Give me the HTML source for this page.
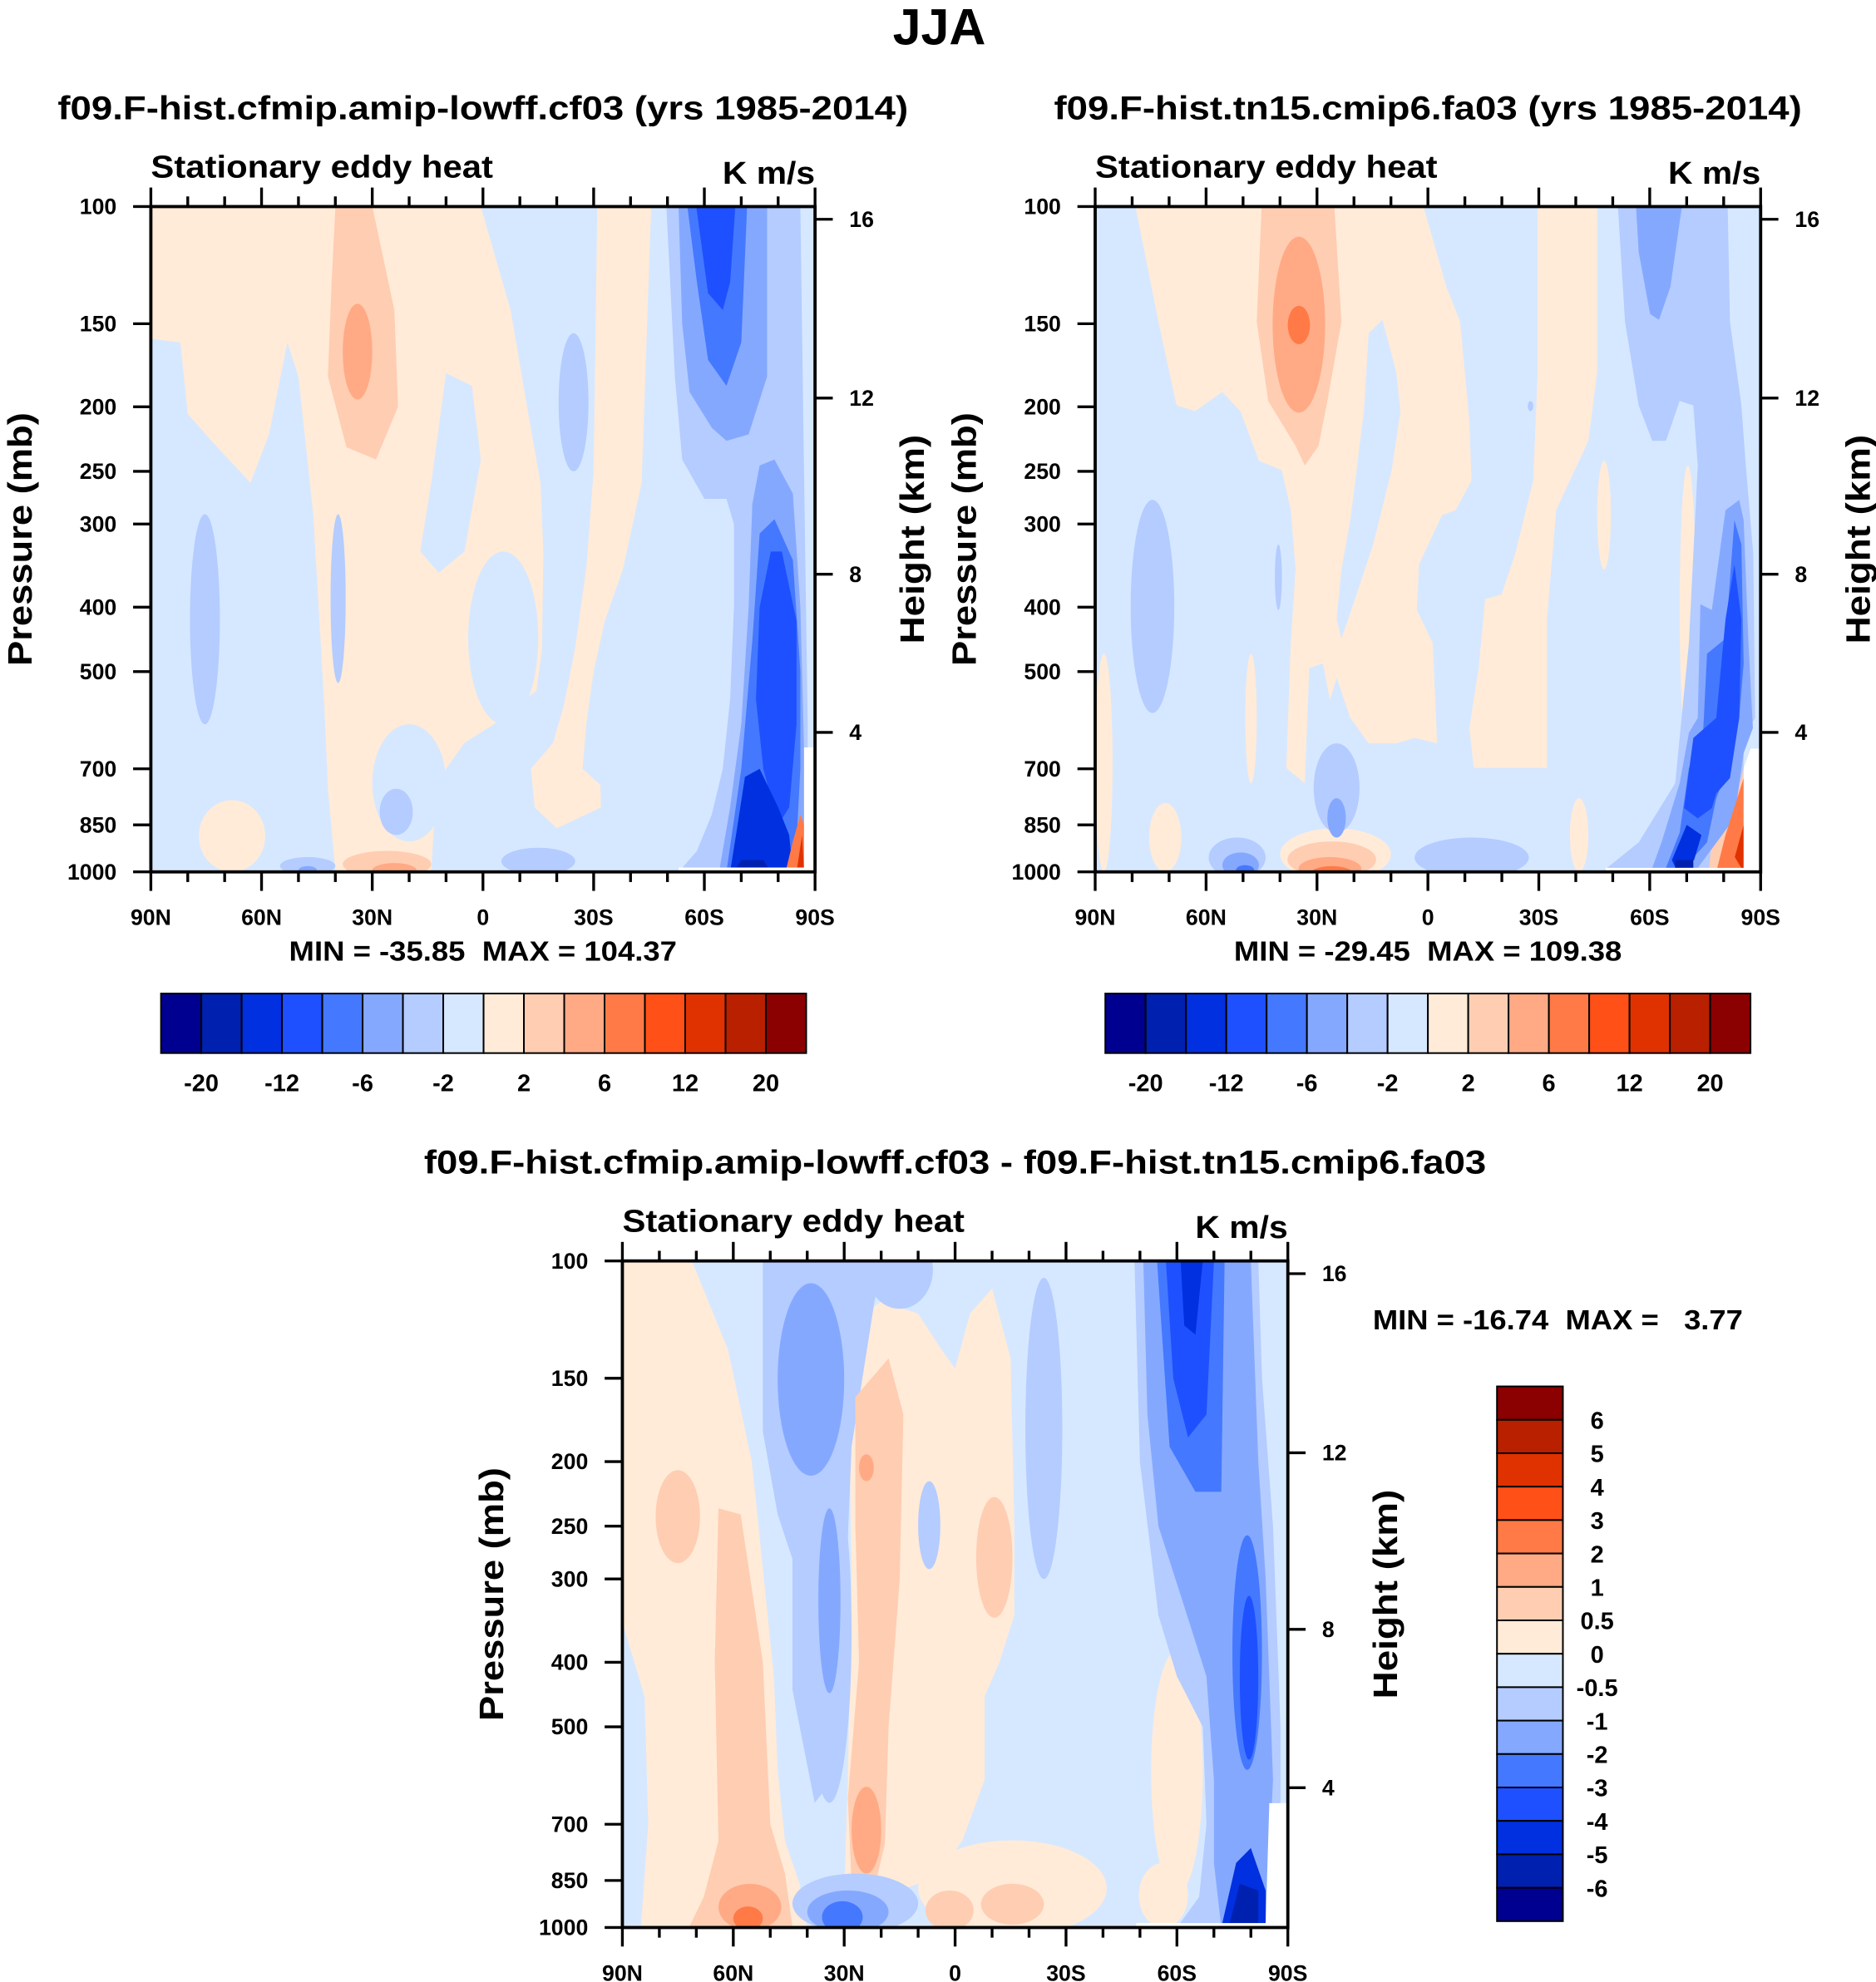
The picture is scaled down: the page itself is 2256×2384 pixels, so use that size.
<!DOCTYPE html>
<html><head><meta charset="utf-8"><style>
html,body{margin:0;padding:0;background:#fff}
svg{display:block}
text{font-family:"Liberation Sans",sans-serif;font-weight:bold;fill:#000;white-space:pre}
</style></head><body>
<svg id="fig" xmlns="http://www.w3.org/2000/svg" width="2256" height="2384" viewBox="0 0 1480 1564">
<text x="741" y="35" font-size="40" text-anchor="middle">JJA</text>
</svg>
<script>
const levelColors = ["#000090","#0020b0","#0030e0","#1e50ff","#4478ff","#85a8ff","#b4ccff","#d6e8ff","#ffebd8","#ffcdb2","#ffaa85","#ff7a46","#ff5018","#e03200","#b82000","#8b0000"];
const latTicks = [90,60,30,0,-30,-60,-90];
const latLabels = ["90N","60N","30N","0","30S","60S","90S"];
const presTicks = [100,150,200,250,300,400,500,700,850,1000];
const heightTicks = [16,12,8,4];
const heightPres = [104.5,194,357,617];
const cbLabelsTop = ["-20","-12","-6","-2","2","6","12","20"];
const cbLabelsDiff = ["6","5","4","3","2","1","0.5","0","-0.5","-1","-2","-3","-4","-5","-6"];

const p1Polys = [
 [8,[[90,100],[0.6,100],[-7.5,143],[-12.3,205],[-15.6,260],[-16.4,331],[-16,462],[-14.5,534],[-3,600],[5,640],[10,700],[13,800],[14,1000],[40,1000],[42,750],[43,560],[46,290],[50,180],[53,160],[58,220],[63,260],[72,230],[80,205],[82,160],[90,158]]],
 [7,[[10,178],[3,186],[0.6,240],[5,330],[12,355],[17,330],[14,260]]],
 [8,[[-31,100],[-45.6,100],[-43,260],[-38,350],[-33,420],[-30,500],[-28,600],[-27,700],[-31.8,740],[-32,800],[-20,860],[-14,800],[-13,700],[-19,640],[-22,560],[-25,460],[-28,350],[-30,250]]],
 [9,[[40,100],[30,100],[24,143],[23,200],[29,240],[37,230],[42,180],[41,130]]],
 [6,[[-49.7,100],[-86,100],[-87,250],[-88,600],[-88,1000],[-53,1000],[-58,930],[-62,820],[-65,700],[-67,550],[-68,400],[-68,300],[-66,275],[-60,275],[-54,240],[-52,180]]],
 [5,[[-53,100],[-77,100],[-77,180],[-72,220],[-66,225],[-62,215],[-56,190],[-54,150]]],
 [4,[[-55.4,100],[-71.6,100],[-70,160],[-66,186],[-61,170],[-58,130]]],
 [3,[[-57.8,100],[-68.4,100],[-67,130],[-65,143],[-61,135]]],
 [5,[[-64,1000],[-67,800],[-70,600],[-72,400],[-73,280],[-75,245],[-79,240],[-84,270],[-86,400],[-87,650],[-88,1000]]],
 [4,[[-66,1000],[-70,700],[-73,450],[-75,310],[-79,295],[-84,340],[-86,500],[-86,700],[-85,900],[-84,1000]]],
 [3,[[-75,400],[-78,330],[-81,330],[-85,420],[-85,600],[-83,800],[-80,850],[-76,700],[-74,550]]],
 [2,[[-67,1000],[-69,850],[-71,720],[-75,700],[-80,800],[-83,880],[-84,1000]]],
 [1,[[-68,1000],[-70,960],[-76,960],[-78,1000]]],
 [11,[[-82,1000],[-84,900],[-86,820],[-87,850],[-87,1000]]],
 [13,[[-85,1000],[-86.5,880],[-87,1000]]]
];
const p1Ellipses = [
 [4,-15,330,600,7],[30,10,600,900,7],[77,59,780,1000,8],[38,30,140,195,10],
 [79.4,71.3,290,600,6],[41.3,37.2,290,520,6],[-20.5,-28.6,155,250,6],[28,19,750,880,6],[55,40,950,1010,6],[-5,-25,920,1010,6],[50,45,980,1010,5],
 [38,14,930,1020,9],[30,18,970,1020,10],[-69,-71.5,430,600,8]
];
const p1White = [[-53,985],[-87,985],[-87,650],[-90,650],[-90,1000],[-53,1000]];

const p2Polys = [
 [8,[[79.1,100],[1.2,100],[-5,132],[-8.7,149],[-11.2,210],[-11.8,258],[-7.5,286],[-3.8,291],[2.4,345],[3,404],[-1.3,453],[-2.5,641],[3.6,629],[8.6,641],[16,641],[21,587],[24.7,511],[26.5,552],[28.4,486],[32.1,494],[33.3,736],[38.3,698],[37.1,453],[35.8,351],[37.1,286],[39.5,249],[45.7,241],[50.7,203],[55.6,190],[63,203],[68,199],[72.9,149]]],
 [7,[[12.3,148],[8.6,177],[7.4,203],[9.8,249],[14.8,322],[19.7,389],[23.4,446],[24.7,417],[23.4,351],[21,296],[17.3,203],[16,155]]],
 [8,[[-29.7,100],[-45.8,100],[-45.8,177],[-43.4,225],[-38.4,258],[-34.7,286],[-32.2,417],[-32.2,698],[-12.4,698],[-11.2,608],[-13.7,494],[-15.5,389],[-19.9,383],[-23.6,333],[-28.5,258],[-29.7,177]]],
 [9,[[45,100],[25.3,100],[23.4,149],[27.2,196],[29.6,229],[33.3,245],[35.8,229],[43.2,196],[46.3,149]]],
 [6,[[-51.4,100],[-81.1,100],[-81.7,149],[-84.8,199],[-86,245],[-88,333],[-88.5,587],[-85.4,629],[-85.4,1000],[-47.1,1000],[-57,903],[-66.9,736],[-70.6,453],[-73,245],[-71.8,199],[-68.1,196],[-64.4,225],[-60.7,225],[-57,199],[-53.3,149]]],
 [5,[[-56.3,100],[-68.7,100],[-65.6,132],[-62.5,148],[-60.1,145],[-57,117]]],
 [5,[[-73,587],[-73.7,396],[-76.8,404],[-80.5,286],[-84.2,276],[-85.4,296],[-86.7,453],[-87.9,608],[-85.4,663],[-82.9,831],[-73,986],[-60.7,986],[-63.2,903],[-68.1,736],[-70.6,618]]],
 [4,[[-74.3,641],[-75.5,470],[-80.5,446],[-82.9,296],[-84.8,322],[-85.4,486],[-84.2,587],[-81.7,686],[-78,775],[-75.5,903],[-69.3,986],[-64.4,986],[-68.1,873],[-70.6,698]]],
 [3,[[-71.8,629],[-78,587],[-80.5,417],[-82.9,345],[-84.8,417],[-84.2,587],[-81.7,723],[-78,762],[-76.8,802],[-73,831],[-69.3,802]]],
 [2,[[-70,850],[-74,880],[-72,960],[-67,986],[-66,960]]],
 [1,[[-66.9,960],[-71.8,960],[-71.8,986],[-66.9,986]]],
 [9,[[-77,860],[-82,820],[-85.4,700],[-85.4,1000],[-76,1000]]],
 [11,[[-80.5,880],[-85.4,723],[-85.4,1000],[-78,1000]]],
 [13,[[-83,950],[-85.4,850],[-85.4,1000]]]
];
const p2Ellipses = [
 [42,27.8,111,204,10],[37.9,31.9,141,161,11],
 [-45.8,-49.5,241,351,8],[-68.1,-72.5,245,663,8],[90,85.3,470,1000,8],[49.4,46.3,470,736,8],[75.4,66.7,788,1000,8],[-38.4,-43.4,775,1000,8],
 [80.4,68.6,276,577,6],[41.4,39.5,322,404,6],[30.9,18.5,641,873,6],[-27,-28.5,196,203,6],[59.3,43.9,888,1020,6],[3.6,-27.3,888,1020,6],
 [27.2,22.2,775,888,5],[55.6,45.7,935,1020,5],[51.9,47,977,1010,4],
 [40,10,860,1030,8],[38,14,900,1020,9],[35,18,950,1030,10],[32,20,980,1040,11]
];
const p2White = [[-48,986],[-85.4,986],[-85.4,698],[-87.3,653],[-90,653],[-90,1000],[-48,1000]];

const p3Polys = [
 [8,[[90,100],[71.2,100],[61.4,136],[55,200],[51.7,300],[49,422],[48,581],[46,742],[42,862],[40,1000],[85,1000],[83,700],[84,450],[90,349]]],
 [9,[[64,235],[58,240],[52,400],[50,700],[46,830],[44,1000],[72,1000],[68,900],[64,742],[65,400]]],
 [6,[[52,100],[20,100],[22,117],[28,190],[29,260],[30,400],[33,600],[38,650],[44,440],[44,280],[48,240],[52,180]]],
 [8,[[29,125],[20,115],[10,120],[4,135],[0,145],[-4,120],[-10,110],[-15,140],[-16,250],[-16,340],[-12,400],[-8,450],[-8,600],[-2,740],[5,840],[20,900],[30,880],[29,600],[28,300]]],
 [9,[[27,160],[18,140],[14,170],[15,300],[18,500],[19,750],[22,880],[28,860],[29,640],[26,400],[27,250]]],
 [6,[[-48.5,100],[-82,100],[-83,150],[-86,250],[-88,500],[-88,1000],[-60,1000],[-66,900],[-68,700],[-67,500],[-60,420],[-55,340],[-50,200]]],
 [5,[[-50.9,100],[-80,100],[-82,200],[-84,300],[-86,600],[-84,1000],[-72,1000],[-70,800],[-70,600],[-68,420],[-62,330],[-55,250],[-52,170]]],
 [4,[[-54.6,100],[-72.9,100],[-72,222],[-65,222],[-58,190]]],
 [3,[[-57,100],[-70,100],[-68,170],[-63,184],[-59,150]]],
 [2,[[-61,100],[-67,100],[-65,129],[-62,125]]],
 [2,[[-72,1000],[-76,800],[-80,760],[-84,880],[-84,1000]]],
 [1,[[-74,1000],[-77,860],[-82,880],[-82,1000]]]
];
const p3Ellipses = [
 [81,69,206,284,9],[64,47,860,1010,10],[60,52,930,1010,11],
 [48,30,108,210,5],[24,6,90,118,6],[40,28,200,650,6],[37,31,235,445,5],
 [26,22,195,214,10],[28,20,615,830,10],
 [44,10,830,1020,6],[40,18,880,1020,5],[36,25,913,1020,4],
 [10,4,214,290,6],[-19,-29,106,300,6],[-5.7,-15.5,226,343,9],
 [10,-41,740,1030,8],[8,-5,880,1010,9],[-7,-24,860,990,9],
 [-53,-67,384,890,8],[-49.7,-63,800,1000,8],
 [-75,-83,258,580,4],[-77,-82,318,560,3]
];
const p3White = [[-49,985],[-84,985],[-85,651],[-90,651],[-90,1000],[-49,1000]];

const NS = "http://www.w3.org/2000/svg";
const svg = document.getElementById("fig");
function el(tag, attrs, parent) {
  const e = document.createElementNS(NS, tag);
  for (const k in attrs) e.setAttribute(k, attrs[k]);
  (parent || svg).appendChild(e);
  return e;
}
function txt(str, attrs, parent) { const t = el("text", attrs, parent); t.textContent = str; return t; }

function panel(id, x0, y0, w, h, polys, ellipses, white, title, titleLen, minmax) {
  const g = el("g", {});
  
  
  const X = lat => x0 + (90 - lat) / 180 * w;
  const Y = p => y0 + Math.log10(p / 100) * h;
  const clip = el("clipPath", {id: id + "-clip"}, g);
  el("rect", {x: x0, y: y0, width: w, height: h}, clip);
  const plot = el("g", {"clip-path": "url(#" + id + "-clip)"}, g);
  
  
  const bg = el("rect", {x: x0, y: y0, width: w, height: h, fill: levelColors[7]}, plot);
  
  
  const drawPoly = (lvl, pts, name) => {
    const d = pts.map((q, i) => (i ? "L" : "M") + X(q[0]).toFixed(1) + "," + Y(q[1]).toFixed(1)).join(" ") + "Z";
    const pe = el("path", {d: d, fill: lvl < 0 ? "#fff" : levelColors[lvl], "stroke-linejoin": "round"}, plot);
    
    
  };
  const drawEll = e => {
    const xa = X(e[0]), xb = X(e[1]), ya = Y(e[2]), yb = Y(e[3]);
    const el2 = el("ellipse", {cx: (xa + xb) / 2, cy: (ya + yb) / 2, rx: Math.abs(xb - xa) / 2, ry: Math.abs(yb - ya) / 2, fill: levelColors[e[4]]}, plot);
    
    
  };
  polys.forEach(pp => { if (pp[0] >= 7 && pp[0] <= 8) drawPoly(pp[0], pp[1], 'contour-region'); });
  ellipses.forEach(e => { if (e[4] === 7 || e[4] === 8) drawEll(e); });
  polys.forEach(pp => { if (pp[0] === 9 || pp[0] === 6) drawPoly(pp[0], pp[1], 'contour-region'); });
  ellipses.forEach(e => { if (e[4] === 9 || e[4] === 6) drawEll(e); });
  polys.forEach(pp => { if (pp[0] < 6 || pp[0] > 9) drawPoly(pp[0], pp[1], 'contour-region'); });
  ellipses.forEach(e => { if (e[4] < 6 || e[4] > 9) drawEll(e); });
  drawPoly(-1, white, 'missing-data-region');
  const fr = el("rect", {x: x0, y: y0, width: w, height: h, fill: "none", stroke: "#000", "stroke-width": 2.5}, g);
  
  
  for (let lat = 90; lat >= -90; lat -= 10) {
    const major = lat % 30 === 0;
    const L = major ? 15 : 8;
    const xx = X(lat);
    el("line", {x1: xx, y1: y0, x2: xx, y2: y0 - L, stroke: "#000", "stroke-width": 2.2}, g);
    el("line", {x1: xx, y1: y0 + h, x2: xx, y2: y0 + h + L, stroke: "#000", "stroke-width": 2.2}, g);
  }
  latTicks.forEach((lat, i) => {
    const t = txt(latLabels[i], {x: X(lat), y: y0 + h + 42, "font-size": 17.5, "text-anchor": "middle"}, g);
    
    
  });
  presTicks.forEach(p => {
    el("line", {x1: x0, y1: Y(p), x2: x0 - 14, y2: Y(p), stroke: "#000", "stroke-width": 2.2}, g);
    const t = txt(String(p), {x: x0 - 27, y: Y(p) + 6, "font-size": 17.5, "text-anchor": "end"}, g);
    
    
  });
  heightTicks.forEach((z, i) => {
    const yy = Y(heightPres[i]);
    el("line", {x1: x0 + w, y1: yy, x2: x0 + w + 14, y2: yy, stroke: "#000", "stroke-width": 2.2}, g);
    const t = txt(String(z), {x: x0 + w + 27, y: yy + 6, "font-size": 17.5}, g);
    
    
  });
  const t1 = txt(title, {x: x0 + w / 2, y: y0 - 69, "font-size": 26, "text-anchor": "middle", textLength: titleLen, lengthAdjust: "spacingAndGlyphs"}, g);
  
  
  const t2 = txt("Stationary eddy heat", {x: x0, y: y0 - 23, "font-size": 25, textLength: 270, lengthAdjust: "spacingAndGlyphs"}, g);
  
  
  const t3 = txt("K m/s", {x: x0 + w, y: y0 - 18, "font-size": 25, "text-anchor": "end", textLength: 73, lengthAdjust: "spacingAndGlyphs"}, g);
  
  
  const cy = y0 + h / 2;
  const t4 = txt("Pressure (mb)", {x: 0, y: 0, "font-size": 27, "text-anchor": "middle", textLength: 200, lengthAdjust: "spacingAndGlyphs", transform: "translate(" + (x0 - 94) + "," + cy + ") rotate(-90)"}, g);
  
  
  const t5 = txt("Height (km)", {x: 0, y: 0, "font-size": 27, "text-anchor": "middle", textLength: 165, lengthAdjust: "spacingAndGlyphs", transform: "translate(" + (x0 + w + 86) + "," + cy + ") rotate(-90)"}, g);
  
  
  if (minmax) {
    const t6 = txt(minmax, {x: x0 + w / 2, y: y0 + h + 70, "font-size": 22, "text-anchor": "middle", textLength: 306, lengthAdjust: "spacingAndGlyphs"}, g);
    
    
  }
}

function hColorbar(id, x0, y0, w, h) {
  const g = el("g", {});
  
  
  const bw = w / levelColors.length;
  levelColors.forEach((c, i) => {
    const r = el("rect", {x: x0 + i * bw, y: y0, width: bw, height: h, fill: c, stroke: "#000", "stroke-width": 1.3}, g);
    
    
  });
  cbLabelsTop.forEach((s, i) => {
    const t = txt(s, {x: x0 + (2 * i + 1) * bw, y: y0 + h + 30, "font-size": 19, "text-anchor": "middle"}, g);
    
    
  });
}

function vColorbar(id, x0, y0, w, h) {
  const g = el("g", {});
  
  
  const bh = h / levelColors.length;
  levelColors.slice().reverse().forEach((c, i) => {
    const r = el("rect", {x: x0, y: y0 + i * bh, width: w, height: bh, fill: c, stroke: "#000", "stroke-width": 1.3}, g);
    
    
  });
  cbLabelsDiff.forEach((s, i) => {
    const t = txt(s, {x: x0 + w + 27, y: y0 + (i + 1) * bh + 7, "font-size": 19, "text-anchor": "middle"}, g);
    
    
  });
}

panel("panel-cf03", 119, 163, 524, 525, p1Polys, p1Ellipses, p1White, "f09.F-hist.cfmip.amip-lowff.cf03 (yrs 1985-2014)", 671, "MIN = -35.85  MAX = 104.37");
panel("panel-fa03", 864, 163, 525, 525, p2Polys, p2Ellipses, p2White, "f09.F-hist.tn15.cmip6.fa03 (yrs 1985-2014)", 590, "MIN = -29.45  MAX = 109.38");
panel("panel-diff", 491, 995, 525, 526, p3Polys, p3Ellipses, p3White, "f09.F-hist.cfmip.amip-lowff.cf03 - f09.F-hist.tn15.cmip6.fa03", 838, null);
hColorbar("colorbar-cf03", 127, 784, 509, 47);
hColorbar("colorbar-fa03", 872, 784, 509, 47);
vColorbar("colorbar-diff", 1181, 1094, 52, 422);
const mm = txt("MIN = -16.74  MAX =   3.77", {x: 1083, y: 1049, "font-size": 22, textLength: 292, lengthAdjust: "spacingAndGlyphs"});


</script>
</body></html>
